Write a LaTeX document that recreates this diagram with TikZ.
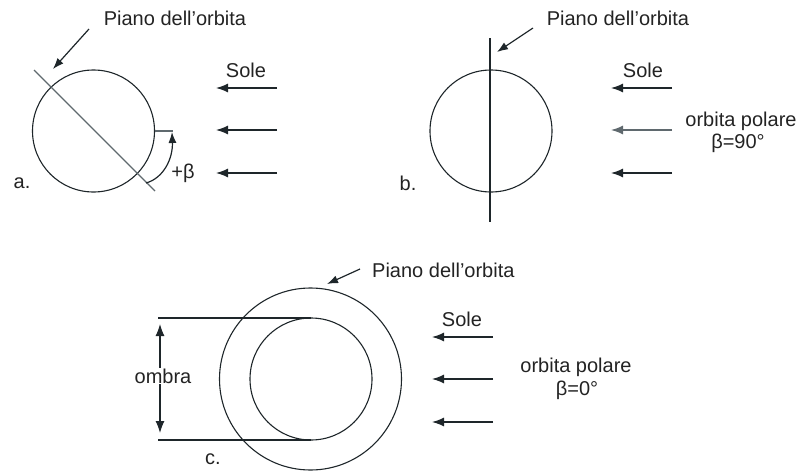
\documentclass[tikz,border=0pt]{standalone}
\usepackage{fontspec}
\setmainfont{Liberation Sans}
\usetikzlibrary{arrows.meta}
\definecolor{linecol}{RGB}{30,38,42}
\definecolor{graycol}{RGB}{95,105,110}
\definecolor{textcol}{RGB}{35,35,35}
\tikzset{
  lbl/.style={inner sep=0pt, text=textcol, font=\fontsize{20}{22}\selectfont},
  orb/.style={circle, draw=linecol, line width=1.1pt, inner sep=0pt, outer sep=0pt},
  ray/.style={draw=linecol, line width=1.3pt, -{Latex[length=12pt,width=9pt]}},
  graysray/.style={ray, draw=graycol},
  pointer/.style={draw=linecol, line width=1.2pt, -{Latex[length=11pt,width=8pt]}},
  plane/.style={draw=graycol, line width=1.2pt},
  thin/.style={draw=linecol, line width=1.1pt},
}
\begin{document}
\begin{tikzpicture}[x=1pt,y=-1pt]
\useasboundingbox (0,0) rectangle (801,474);
% ---------- panel a ----------
\node[orb, minimum size=122pt] (ca) at (93.5,131) {};
\coordinate (pa1) at (34,70);
\coordinate (pa2) at (155,191);
\draw[plane] (pa1) -- (pa2);
\node[lbl] (ta) at (175,18) {Piano dell’orbita};
\coordinate (pas) at (89,29);
\coordinate (pae) at (53,69);
\draw[pointer] (pas) -- (pae);
\node[lbl] (solea) at (246,70) {Sole};
\coordinate (ra1s) at (277,88);  \coordinate (ra1e) at (216,88);
\coordinate (ra2s) at (277,130); \coordinate (ra2e) at (216,130);
\coordinate (ra3s) at (277,173); \coordinate (ra3e) at (216,173);
\draw[ray] (ra1s) -- (ra1e);
\draw[ray] (ra2s) -- (ra2e);
\draw[ray] (ra3s) -- (ra3e);
\coordinate (ha) at (173,131);
\draw[plane] (ca.east) -- (ha);
\coordinate (arcs) at (146,183);
\coordinate (arce) at (172,132);
\draw[ray, line width=1.2pt, -{Latex[length=11pt,width=8pt]}] (arcs) .. controls (164,178) and (173,158) .. (arce);
\node[lbl] (beta) at (183,173) {+β};
\node[lbl] (la) at (22,183) {a.};
% ---------- panel b ----------
\node[orb, minimum size=122pt] (cb) at (491,131) {};
\coordinate (pb1) at (490,38);
\coordinate (pb2) at (490,222);
\draw[plane, draw=linecol] (pb1) -- (pb2);
\node[lbl] (tb) at (618,18) {Piano dell’orbita};
\coordinate (pbs) at (533,28);
\coordinate (pbe) at (497,52);
\draw[pointer] (pbs) -- (pbe);
\node[lbl] (soleb) at (643,70) {Sole};
\coordinate (rb1s) at (672,88);  \coordinate (rb1e) at (611,88);
\coordinate (rb2s) at (672,130); \coordinate (rb2e) at (611,130);
\coordinate (rb3s) at (672,173); \coordinate (rb3e) at (611,173);
\draw[ray] (rb1s) -- (rb1e);
\draw[graysray] (rb2s) -- (rb2e);
\draw[ray] (rb3s) -- (rb3e);
\node[lbl] (opb) at (741,121) {orbita polare};
\node[lbl] (bb) at (738,143) {β=90°};
\node[lbl] (lb) at (408,183) {b.};
% ---------- panel c ----------
\node[orb, minimum size=182pt] (cco) at (310.5,379) {};
\node[orb, minimum size=122pt] (cci) at (311,379) {};
\coordinate (lt) at (158,318);
\coordinate (lbm) at (158,440);
\draw[thin] (lt) -- (cci.north);
\draw[thin] (lbm) -- (cci.south);
\coordinate (dt) at (160,318);
\coordinate (db) at (160,440);
\draw[thin, {Latex[length=12pt,width=9pt]}-{Latex[length=12pt,width=9pt]}, shorten <=6pt, shorten >=7pt] (dt) -- (db);
\node[lbl, fill=white, inner sep=1pt] (ombra) at (163,376) {ombra};
\node[lbl] (lc) at (213,459) {c.};
\coordinate (pcs) at (360,269);
\coordinate (pce) at (327,284);
\draw[pointer] (pcs) -- (pce);
\node[lbl, anchor=west] (tc) at (372,270) {Piano dell’orbita};
\node[lbl] (solec) at (462,319) {Sole};
\coordinate (rc1s) at (493,337); \coordinate (rc1e) at (432,337);
\coordinate (rc2s) at (493,379); \coordinate (rc2e) at (432,379);
\coordinate (rc3s) at (493,422); \coordinate (rc3e) at (432,422);
\draw[ray] (rc1s) -- (rc1e);
\draw[ray] (rc2s) -- (rc2e);
\draw[ray] (rc3s) -- (rc3e);
\node[lbl] (opc) at (576,367) {orbita polare};
\node[lbl] (bc) at (577,390) {β=0°};
\end{tikzpicture}
\end{document}
